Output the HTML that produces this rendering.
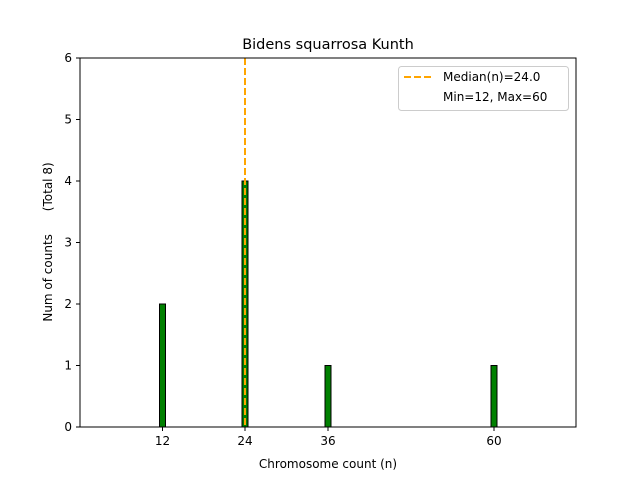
<!DOCTYPE html>
<html><head><meta charset="utf-8"><style>
html,body{margin:0;padding:0;background:#fff;}
svg{display:block;font-family:"DejaVu Sans","Liberation Sans",sans-serif;}
</style></head><body>
<svg width="640" height="480" viewBox="0 0 640 480" xmlns="http://www.w3.org/2000/svg">
<rect width="640" height="480" fill="#fff"/>
<!-- bars -->
<g fill="#008000" stroke="#000" stroke-width="1">
<rect x="159.5" y="304" width="6" height="123"/>
<rect x="242" y="181" width="6" height="246"/>
<rect x="325" y="365.5" width="6" height="61.5"/>
<rect x="491" y="365.5" width="6" height="61.5"/>
</g>
<line x1="245" y1="58" x2="245" y2="427" stroke="#ffa500" stroke-width="2" stroke-dasharray="7,3"/>
<rect x="80" y="58" width="496" height="369" fill="none" stroke="#000" stroke-width="1"/>
<!-- y ticks -->
<g stroke="#000" stroke-width="1">
<line x1="76" y1="427" x2="80" y2="427"/><line x1="76" y1="365.5" x2="80" y2="365.5"/>
<line x1="76" y1="304" x2="80" y2="304"/><line x1="76" y1="242.5" x2="80" y2="242.5"/>
<line x1="76" y1="181" x2="80" y2="181"/><line x1="76" y1="119.5" x2="80" y2="119.5"/>
<line x1="76" y1="58" x2="80" y2="58"/>
<line x1="162.5" y1="427" x2="162.5" y2="431"/><line x1="245" y1="427" x2="245" y2="431"/>
<line x1="328" y1="427" x2="328" y2="431"/><line x1="494" y1="427" x2="494" y2="431"/>
</g>
<g font-size="12" fill="#000" text-anchor="end">
<text x="72" y="431">0</text><text x="72" y="369.5">1</text><text x="72" y="308">2</text>
<text x="72" y="246.5">3</text><text x="72" y="185">4</text><text x="72" y="123.5">5</text><text x="72" y="62">6</text>
</g>
<g font-size="12" fill="#000" text-anchor="middle">
<text x="162.5" y="445">12</text><text x="245" y="445">24</text><text x="328" y="445">36</text><text x="494" y="445">60</text>
<text x="328" y="468">Chromosome count (n)</text>
</g>
<text x="52" y="242" font-size="12" text-anchor="middle" transform="rotate(-90 52 242)" xml:space="preserve">Num of counts      (Total 8)</text>
<text x="328" y="49" font-size="14.5" text-anchor="middle">Bidens squarrosa Kunth</text>
<!-- legend -->
<rect x="398.5" y="66.5" width="170" height="44" rx="3" fill="#fff" stroke="#ccc" stroke-width="1"/>
<line x1="404" y1="77" x2="432" y2="77" stroke="#ffa500" stroke-width="2" stroke-dasharray="7,3"/>
<text x="443" y="81" font-size="12">Median(n)=24.0</text>
<text x="443" y="101" font-size="12">Min=12, Max=60</text>
</svg>
</body></html>
